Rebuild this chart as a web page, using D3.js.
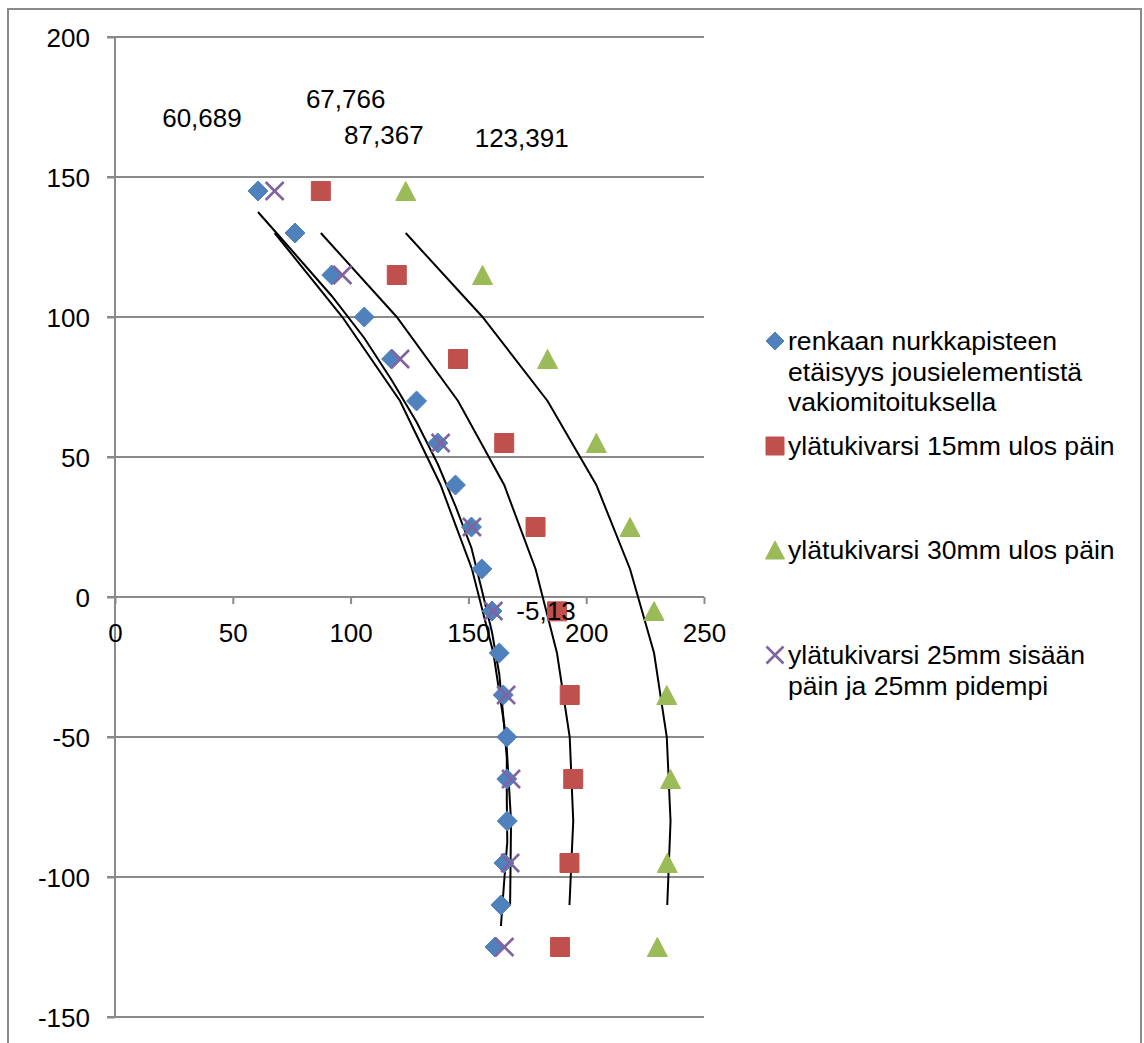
<!DOCTYPE html>
<html>
<head>
<meta charset="utf-8">
<script src="https://cdn.jsdelivr.net/npm/d3@7"></script>
<style>
  html, body { margin: 0; padding: 0; background: #fff; }
  svg { display: block; font-family: "Liberation Sans", Arial, sans-serif; }
</style>
</head>
<body>
<svg id="chart" width="1144" height="1043"></svg>
<script>
// Tick values of both axes
const xTicks = [0, 50, 100, 150, 200, 250];
const yTicks = [-150, -100, -50, 0, 50, 100, 150, 200];

// Series: measured points (x = distance, y = height)
const blueY = [145, 130, 115, 100, 85, 70, 55, 40, 25, 10, -5, -20, -35, -50, -65, -80, -95, -110, -125];
const blueX = [60.689, 76.4, 92.0, 105.8, 117.4, 128.0, 137.0, 144.5, 151.3, 155.7, 160.0, 163.1, 164.8, 166.3, 166.3, 166.5, 165.1, 163.8, 161.3];

const redY = [145, 115, 85, 55, 25, -5.13, -35, -65, -95, -125];
const redX = [87.367, 119.6, 145.6, 165.2, 178.5, 187.6, 193.0, 194.5, 192.9, 188.9];

const greenY = [145, 115, 85, 55, 25, -5, -35, -65, -95, -125];
const greenX = [123.391, 156.0, 183.6, 204.3, 218.6, 228.8, 234.2, 235.8, 234.4, 230.2];

const purpleY = [145, 115, 85, 55, 25, -5, -35, -65, -95, -125];
const purpleX = [67.766, 96.5, 121.0, 138.2, 151.5, 160.6, 166.0, 168.1, 167.7, 165.3];

// Levels of the black comparison curves (they reuse the series x-values)
const curveY = [130, 100, 70, 40, 10, -20, -50, -80, -110];
const blueCurveY = [137.5, 122.5, 107.5, 92.5, 77.5, 62.5, 47.5, 32.5, 17.5, 2.5, -12.5, -27.5, -42.5, -57.5, -72.5, -87.5, -102.5, -117.5];

const legendNames = [
  ["renkaan nurkkapisteen", "etäisyys jousielementistä", "vakiomitoituksella"],
  ["ylätukivarsi 15mm ulos päin"],
  ["ylätukivarsi 30mm ulos päin"],
  ["ylätukivarsi 25mm sisään", "päin ja 25mm pidempi"]
];

const colors = { blue: "#4F81BD", red: "#C0504D", green: "#9BBB59", purple: "#8064A2" };
const fmt = v => String(v).replace(".", ",");

const svg = d3.select("#chart");
const FS = 26;

const x = d3.scaleLinear().domain([0, 250]).range([115, 704]);
const y = d3.scaleLinear().domain([-150, 200]).range([1017, 37]);

// outer frame
svg.append("rect").attr("x", 8).attr("y", 9).attr("width", 1133).attr("height", 1050)
  .attr("fill", "none").attr("stroke", "#8a8a8a").attr("stroke-width", 2);

// horizontal gridlines (with the left tick stubs)
svg.append("g").selectAll("line").data(yTicks).join("line")
  .attr("x1", x(0) - 8).attr("x2", x(250))
  .attr("y1", d => y(d)).attr("y2", d => y(d))
  .attr("stroke", "#8a8a8a").attr("stroke-width", 2);

// y axis
const yAxis = svg.append("g").attr("transform", `translate(${x(0)},0)`)
  .call(d3.axisLeft(y).tickValues(yTicks).tickSize(8).tickPadding(17).tickFormat(d => d));
yAxis.select(".domain").attr("stroke", "#8a8a8a").attr("stroke-width", 2)
  .attr("d", `M0,${y(200)}V${y(-150)}`);
yAxis.selectAll(".tick line").attr("stroke", "#8a8a8a").attr("stroke-width", 2);
yAxis.selectAll(".tick text").attr("font-size", FS).attr("fill", "#000")
  .attr("font-family", "Liberation Sans, Arial, sans-serif").attr("dy", "0.36em");

// x axis at y = 0
const xAxis = svg.append("g").attr("transform", `translate(0,${y(0)})`)
  .call(d3.axisBottom(x).tickValues(xTicks).tickSize(7).tickPadding(30).tickFormat(d => d));
xAxis.select(".domain").remove();
xAxis.selectAll(".tick line").attr("stroke", "#8a8a8a").attr("stroke-width", 2);
xAxis.selectAll(".tick text").attr("font-size", FS).attr("fill", "#000")
  .attr("font-family", "Liberation Sans, Arial, sans-serif").attr("dy", "0.32em");

// black comparison curves
const line = d3.line().x(d => x(d[0])).y(d => y(d[1]));
const curves = [
  blueCurveY.map((v, i) => [blueX[i], v]),
  curveY.map((v, i) => [purpleX[i], v]),
  curveY.map((v, i) => [redX[i], v]),
  curveY.map((v, i) => [greenX[i], v])
];
svg.append("g").selectAll("path").data(curves).join("path")
  .attr("d", line).attr("fill", "none").attr("stroke", "#000").attr("stroke-width", 2);

// marker shapes
const shapes = {
  diamond: r => `M0,${-r}L${r},0L0,${r}L${-r},0Z`,
  square: r => `M${-r},${-r}H${r}V${r}H${-r}Z`,
  triangle: r => `M0,${-r * 0.95}L${r},${r * 0.95}L${-r},${r * 0.95}Z`,
  cross: r => `M${-r},${-r}L${r},${r}M${-r},${r}L${r},${-r}`
};
function drawMarker(g, shape, color, r) {
  const p = g.append("path").attr("d", shapes[shape](r));
  if (shape === "cross") p.attr("fill", "none").attr("stroke", color).attr("stroke-width", 2.6);
  else p.attr("fill", color).attr("stroke", color).attr("stroke-width", 1).attr("stroke-linejoin", "round");
}

const series = [
  { xs: blueX, ys: blueY, shape: "diamond", color: colors.blue, r: 10 },
  { xs: redX, ys: redY, shape: "square", color: colors.red, r: 9.5 },
  { xs: greenX, ys: greenY, shape: "triangle", color: colors.green, r: 10 },
  { xs: purpleX, ys: purpleY, shape: "cross", color: colors.purple, r: 9 }
];
series.forEach(s => {
  const g = svg.append("g");
  s.xs.forEach((v, i) => {
    const m = g.append("g").attr("transform", `translate(${x(v)},${y(s.ys[i])})`);
    drawMarker(m, s.shape, s.color, s.r);
  });
});

// data labels (offsets in px from their point)
const labels = [
  { text: fmt(blueX[0]), px: blueX[0], py: blueY[0], dx: -56, dy: -64 },
  { text: fmt(purpleX[0]), px: purpleX[0], py: purpleY[0], dx: 71, dy: -83 },
  { text: fmt(redX[0]), px: redX[0], py: redY[0], dx: 63, dy: -47 },
  { text: fmt(greenX[0]), px: greenX[0], py: greenY[0], dx: 116, dy: -44 },
  { text: fmt(redY[5]), px: redX[5], py: redY[5], dx: -11, dy: 9 }
];
svg.append("g").selectAll("text").data(labels).join("text")
  .attr("x", d => x(d.px) + d.dx).attr("y", d => y(d.py) + d.dy)
  .attr("text-anchor", "middle").attr("font-size", FS).attr("fill", "#000")
  .text(d => d.text);

// legend
const legendTop = [341, 446, 550, 655];
const legendShapes = ["diamond", "square", "triangle", "cross"];
const legendColors = [colors.blue, colors.red, colors.green, colors.purple];
const legendR = [9, 9, 9.5, 8.5];
legendNames.forEach((lines, i) => {
  const g = svg.append("g").attr("transform", `translate(775,${legendTop[i]})`);
  drawMarker(g, legendShapes[i], legendColors[i], legendR[i]);
  const t = g.append("text").attr("x", 13).attr("y", 9).attr("font-size", 26.6).attr("fill", "#000");
  lines.forEach((l, j) => t.append("tspan").attr("x", 13).attr("dy", j === 0 ? 0 : 30.5).text(l));
});
</script>
</body>
</html>
